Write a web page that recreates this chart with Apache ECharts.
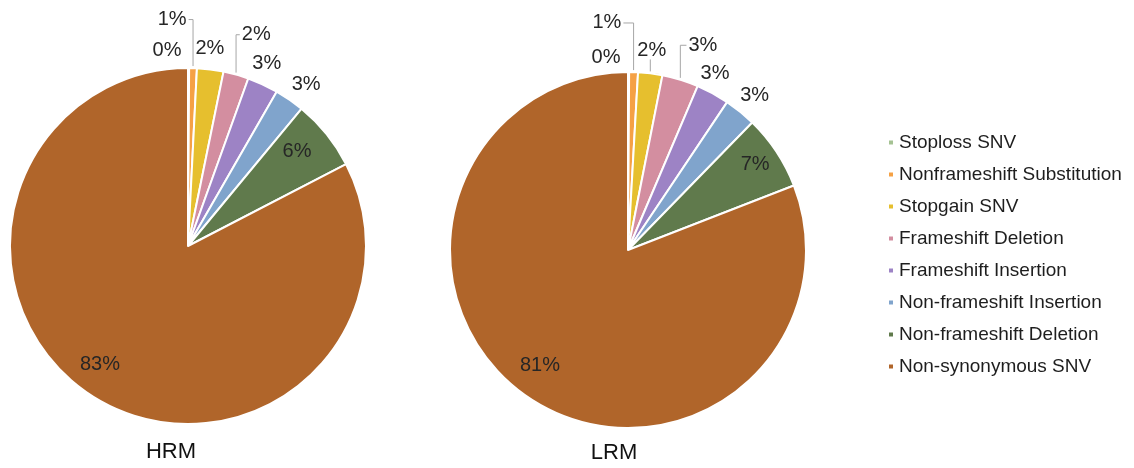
<!DOCTYPE html>
<html>
<head>
<meta charset="utf-8">
<script src="https://cdn.jsdelivr.net/npm/echarts@6/dist/echarts.min.js"></script>
<style>
html,body{margin:0;padding:0;background:#fff;}
#chart{width:1134px;height:468px;}
</style>
</head>
<body>
<div id="chart"></div>
<script>
// ---- data ----
const categories = ['Stoploss SNV','Nonframeshift Substitution','Stopgain SNV','Frameshift Deletion','Frameshift Insertion','Non-frameshift Insertion','Non-frameshift Deletion','Non-synonymous SNV'];
const hrmValues = [0.1, 0.7, 2.4, 2.3, 2.8, 2.7, 6.4, 82.6];
const lrmValues = [0.1, 0.8, 2.2, 3.3, 3.0, 2.9, 6.8, 80.9];
const groupNames = ['HRM', 'LRM'];

// ---- styles ----
const colors = ['#a5c293','#f5a145','#e6bf2e','#d38ea0','#9d83c5','#80a4cc','#607a4c','#b0652a'];
const pies = [
  {cx:188, cy:246, r:178, titleX:171, titleY:452,
   // label placement: [angle from 12 o'clock (deg), distance from centre (px), leader style]
   labels:[[-6.1,197],[-4.0,227,'elbowR'],[6.3,199],[17.9,222,'elbowL'],[23.3,199],[36.2,200],[49.2,144],[216.5,148]]},
  {cx:628, cy:250, r:178, titleX:614, titleY:453,
   labels:[[-6.5,194],[-5.3,228,'elbowR'],[6.8,201,'down'],[20.1,218,'elbowL'],[26.2,197],[39.3,200],[56.2,153],[217.4,145]]}
];

function midAngles(values){
  const total = values.reduce((a,b)=>a+b,0);
  let acc = 0; const mids = [];
  values.forEach(v=>{ mids.push((acc + v/2)/total*360); acc += v; });
  return mids;
}

function makeLayout(values, pie){
  const mids = midAngles(values);
  const rad = Math.PI/180;
  return function(params){
    const i = params.dataIndex;
    const spec = pie.labels[i];
    const a = spec[0]*rad;
    const x = pie.cx + spec[1]*Math.sin(a);
    const y = pie.cy - spec[1]*Math.cos(a);
    const out = {x:x, y:y, align:'center', verticalAlign:'middle'};
    const m = mids[i]*rad;
    const rx = pie.cx + pie.r*Math.sin(m);
    const ry = pie.cy - pie.r*Math.cos(m);
    const w = params.labelRect.width, h = params.labelRect.height;
    if (spec[2]==='elbowR') out.labelLinePoints = [[rx,ry-2],[rx,y],[x+w/2+2,y]];
    else if (spec[2]==='elbowL') out.labelLinePoints = [[rx,ry-2],[rx,y],[x-w/2-2,y]];
    else if (spec[2]==='down') out.labelLinePoints = [[rx,ry-2],[rx,y+h/2-1],[rx,y+h/2-1]];
    return out;
  };
}

function makeSeries(values, pie){
  return {
    type:'pie',
    center:[pie.cx, pie.cy],
    radius:[0, pie.r],
    startAngle:90,
    clockwise:true,
    avoidLabelOverlap:false,
    animation:false,
    itemStyle:{borderColor:'#ffffff', borderWidth:2},
    label:{show:true, position:'outside', formatter:p=>Math.round(p.percent)+'%',
           fontFamily:'Liberation Sans, Arial, sans-serif', fontSize:20, color:'#262626'},
    labelLine:{show:false, lineStyle:{color:'#a6a6a6', width:1}},
    emphasis:{disabled:true},
    labelLayout: makeLayout(values, pie),
    data: values.map((v,i)=>({name:categories[i], value:v,
      itemStyle:{color:colors[i]},
      labelLine:{show: !!pie.labels[i][2]}}))
  };
}

const chart = echarts.init(document.getElementById('chart'));
chart.setOption({
  backgroundColor:'#ffffff',
  color: colors,
  legend:{
    orient:'vertical', left:882, top:128,
    icon:'rect', itemWidth:6, itemHeight:6, itemGap:13,
    data: categories,
    selectedMode:false,
    textStyle:{fontFamily:'Liberation Sans, Arial, sans-serif', fontSize:19, lineHeight:19, color:'#1e1e1e'}
  },
  graphic: groupNames.map((n,k)=>({type:'text', x:pies[k].titleX, y:pies[k].titleY,
    style:{text:n, fontFamily:'Liberation Sans, Arial, sans-serif', fontSize:22, fill:'#111111', align:'center', verticalAlign:'middle'}})),
  series:[makeSeries(hrmValues, pies[0]), makeSeries(lrmValues, pies[1])]
});
</script>
</body>
</html>
